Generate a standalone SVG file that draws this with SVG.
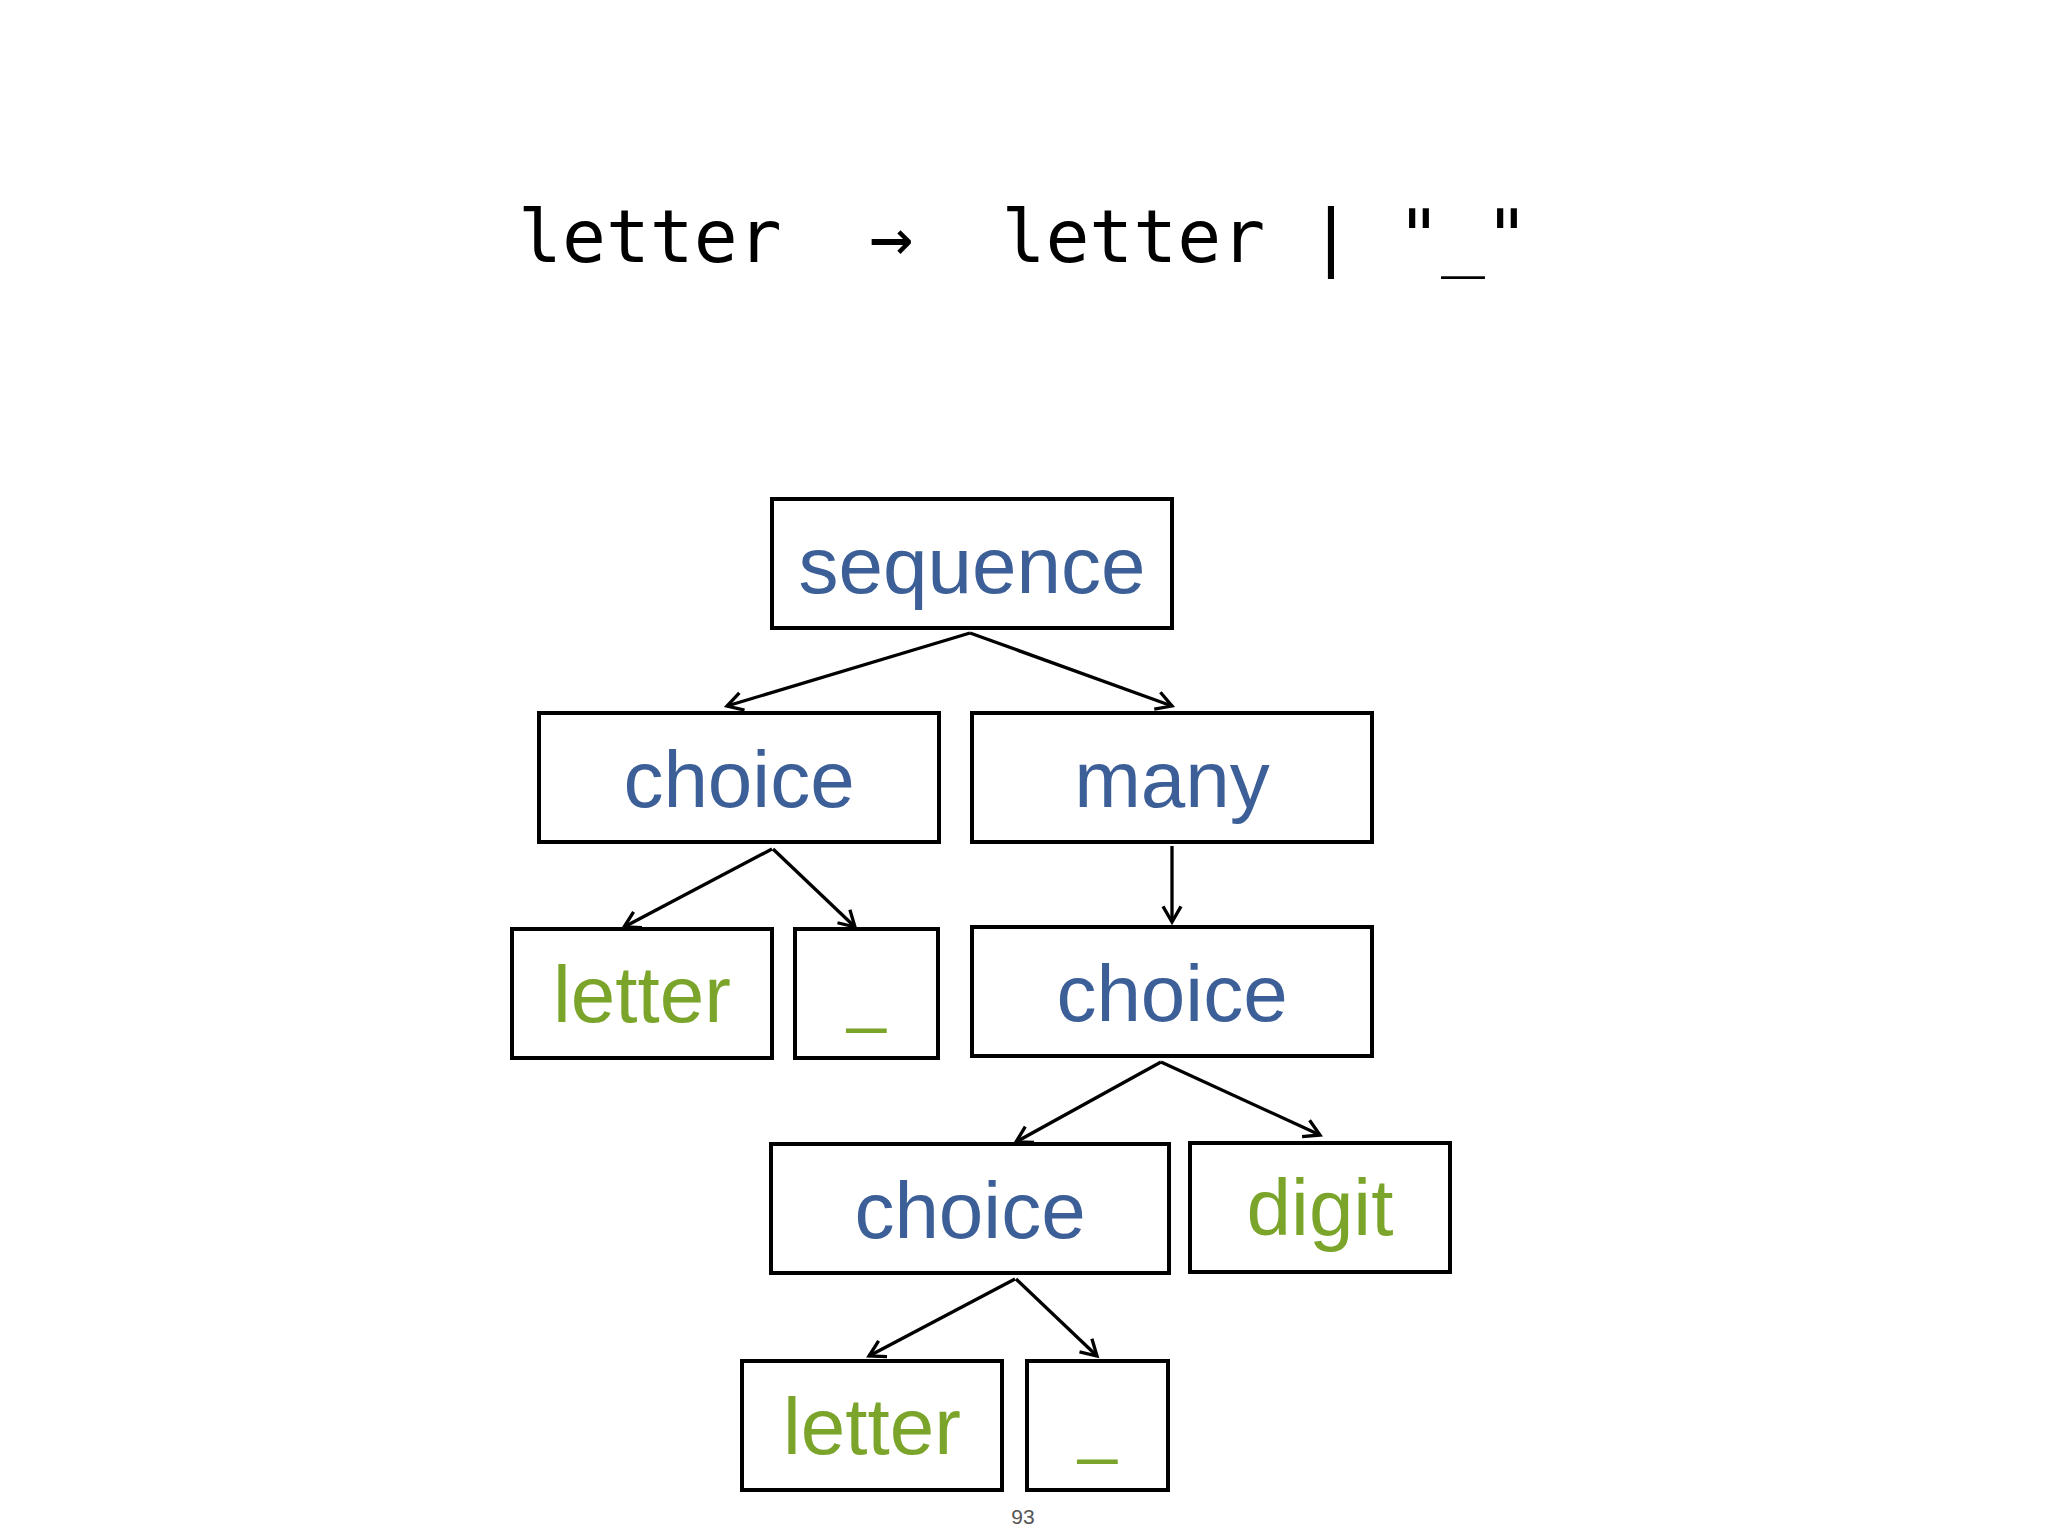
<svg xmlns="http://www.w3.org/2000/svg" width="2048" height="1536" viewBox="0 0 2048 1536">
<style>
.box{fill:#ffffff;stroke:#000000;stroke-width:4}
.lbl{font-family:"Liberation Sans",Arial,sans-serif;font-size:80px;text-anchor:middle}
.us{font-size:70px}
.blue{fill:#3c5f98}
.green{fill:#7aa42a}
.edge{fill:none;stroke:#000000;stroke-width:3.3;marker-end:url(#arr)}
.title{font-family:"DejaVu Sans Mono","Liberation Mono",monospace;font-size:73px;fill:#000000}
.pg{font-family:"Liberation Sans",Arial,sans-serif;font-size:21px;fill:#555555;text-anchor:middle}
</style>
<defs>
<marker id="arr" markerUnits="userSpaceOnUse" markerWidth="30" markerHeight="30" viewBox="-22 -15 30 30" refX="0" refY="0" orient="auto" overflow="visible">
<path d="M-15.6,-9 L0,0 L-15.6,9" fill="none" stroke="#000000" stroke-width="3.3"/>
</marker>
</defs>
<rect width="2048" height="1536" fill="#ffffff"/>
<text class="title" x="518" y="262" xml:space="preserve">letter  →  letter | "_"</text>
<g id="connectors">
<line class="edge" x1="970" y1="633" x2="727" y2="706"/>
<line class="edge" x1="970" y1="633" x2="1172" y2="706"/>
<line class="edge" x1="772" y1="849" x2="624" y2="927"/>
<line class="edge" x1="773" y1="849" x2="855" y2="927"/>
<line class="edge" x1="1172" y1="846" x2="1172" y2="922"/>
<line class="edge" x1="1161" y1="1062" x2="1016" y2="1142"/>
<line class="edge" x1="1161" y1="1062" x2="1320" y2="1135"/>
<line class="edge" x1="1015" y1="1279" x2="869" y2="1356"/>
<line class="edge" x1="1016" y1="1279" x2="1097" y2="1356"/>
</g>
<g id="sequence"><rect class="box" x="772" y="499" width="400" height="129"/><text class="lbl blue" x="972" y="593">sequence</text></g>
<g id="choice1"><rect class="box" x="539" y="713" width="400" height="129"/><text class="lbl blue" x="739" y="807">choice</text></g>
<g id="many"><rect class="box" x="972" y="713" width="400" height="129"/><text class="lbl blue" x="1172" y="807">many</text></g>
<g id="letter1"><rect class="box" x="512" y="929" width="260" height="129"/><text class="lbl green" x="642" y="1022">letter</text></g>
<g id="underscore1"><rect class="box" x="795" y="929" width="143" height="129"/><text class="lbl us green" x="866.5" y="1019">_</text></g>
<g id="choice2"><rect class="box" x="972" y="927" width="400" height="129"/><text class="lbl blue" x="1172" y="1021">choice</text></g>
<g id="choice3"><rect class="box" x="771" y="1144" width="398" height="129"/><text class="lbl blue" x="970" y="1238">choice</text></g>
<g id="digit"><rect class="box" x="1190" y="1143" width="260" height="129"/><text class="lbl green" x="1320" y="1235">digit</text></g>
<g id="letter2"><rect class="box" x="742" y="1361" width="260" height="129"/><text class="lbl green" x="872" y="1454">letter</text></g>
<g id="underscore2"><rect class="box" x="1027" y="1361" width="141" height="129"/><text class="lbl us green" x="1097.5" y="1450">_</text></g>
<text class="pg" x="1023" y="1524">93</text>
</svg>
